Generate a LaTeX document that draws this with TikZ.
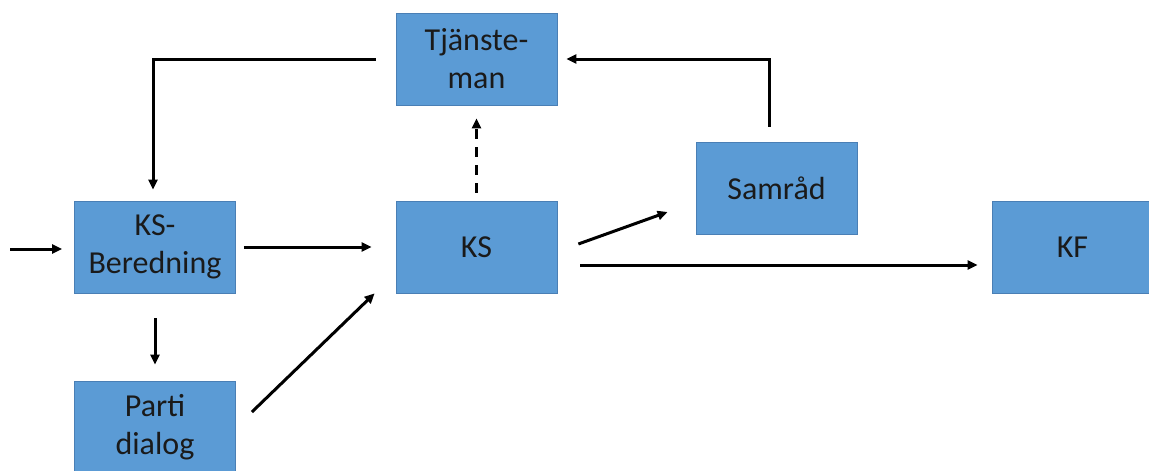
\documentclass[tikz,border=0pt]{standalone}
\usepackage{fontspec}
\setmainfont{Carlito}
\usetikzlibrary{arrows.meta}
\definecolor{boxfill}{HTML}{5B9BD5}
\definecolor{boxline}{HTML}{4A7FB5}
\definecolor{txt}{HTML}{1A1A1A}
\tikzset{
  box/.style={draw=boxline, line width=0.8pt, fill=boxfill, minimum width=161pt, minimum height=92pt,
    inner sep=0pt, align=center, text=txt, font=\fontsize{32}{38}\selectfont},
  conn/.style={line width=3pt, -{Triangle[length=10pt,width=9pt]}},
  dconn/.style={conn, dash pattern=on 10pt off 8pt}
}
\begin{document}
\begin{tikzpicture}[x=1pt,y=-1pt]
\useasboundingbox (0,0) rectangle (1149,471);
\node[box] (tj) at (476.5,59) {Tjänste-\\man};
\node[box] (ksb) at (155,247) {KS-\\Beredning};
\node[box] (ks) at (476.5,247) {KS};
\node[box] (sam) at (776.5,188) {Samråd};
\node[box] (kf) at (1072.5,247) {KF};
\node[box] (pd) at (155,427) {Parti\\dialog};
\coordinate (in) at (10,249);
\draw[conn] (in) -- ([shift={(-12,2)}]ksb.west);
\draw[conn, shorten <=8pt, shorten >=24pt] (ksb.east) -- (ks.west);
\draw[conn, shorten <=25pt, shorten >=16pt] (ksb.south) -- (pd.north);
\draw[conn] ([shift={(16,-15)}]pd.east) -- ([shift={(-21,0)}]ks.south west);
\draw[dconn, shorten <=8pt, shorten >=13pt] (ks.north) -- (tj.south);
\draw[conn] ([shift={(21,-3)}]ks.east) -- ([shift={(-28,24)}]sam.west);
\draw[conn] ([shift={(23,18)}]ks.east) -- ([shift={(-14,18)}]kf.west);
\draw[conn] ([shift={(-7.5,-15)}]sam.north) |- ([shift={(9,0)}]tj.east);
\draw[conn] ([shift={(-20,0)}]tj.west) -| ([shift={(-2,-11)}]ksb.north);
\end{tikzpicture}
\end{document}
